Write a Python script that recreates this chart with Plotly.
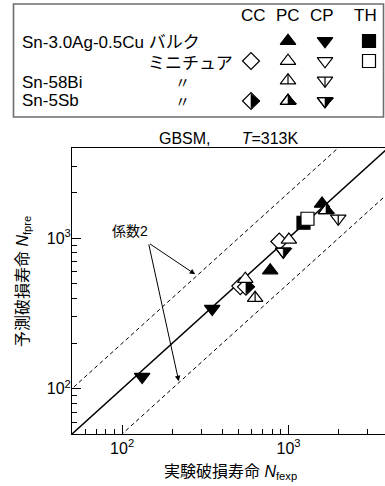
import math
import plotly.graph_objects as go

# ---------------- data ----------------
bulk_pc_x = [776, 1590]
bulk_pc_y = [610, 1690]
bulk_cp_x = [132, 348]
bulk_cp_y = [120, 340]
bulk_th_x = [1230]
bulk_th_y = [1265]
mini_cc_x = [513, 880]
mini_cc_y = [480, 950]
mini_pc_x = [550, 1005]
mini_pc_y = [536, 975]
mini_th_x = [1300]
mini_th_y = [1345]
bi_pc_x = [630]
bi_pc_y = [400]
bi_cp_x = [1990]
bi_cp_y = [1350]
sb_cc_x = [555]
sb_cc_y = [475]
sb_pc_x = [1680]
sb_pc_y = [1530]
sb_cp_x = [930]
sb_cp_y = [815]

FACTOR = 2
AXIS_MIN = 50
X_MAX = 3800
Y_MAX = 4000
major_ticks = [100, 1000]
major_text = ["10<sup>2</sup>", "10<sup>3</sup>"]
columns = ["CC", "PC", "CP", "TH"]
row_labels = ["Sn-3.0Ag-0.5Cu バルク", "ミニチュア", "Sn-58Bi", "Sn-5Sb"]
ditto = "〃"
coef_label = "係数2"
title_text = "GBSM,\u00a0\u00a0\u00a0\u00a0\u00a0\u00a0\u00a0<i>T</i>=313K"
x_title = "実験破損寿命 <i>N</i><sub>fexp</sub>"
y_title = "予測破損寿命 <i>N</i><sub>fpre</sub>"

# ---------------- layout constants ----------------
W, H = 385, 486
PL, PR, PT, PB = 72, 385, 147.5, 434
FONT = "Arial, 'Liberation Sans', 'Noto Sans CJK JP', sans-serif"
S = 13.5
LW = 1.2

fig = go.Figure()


def mk(x, y, xa, ya, symbol, size, color, lw=LW, angle=0, standoff=0):
    fig.add_trace(go.Scatter(
        x=x, y=y, xaxis=xa, yaxis=ya, mode="markers", showlegend=False,
        hoverinfo="skip", cliponaxis=False,
        marker=dict(symbol=symbol, size=size, color=color, angle=angle,
                    standoff=standoff, line=dict(color="black", width=lw))))


def glyph(kind, x, y, xa="x", ya="y"):
    r = S / 2
    q = 0.72 * r
    if kind == "up_f":
        mk(x, y, xa, ya, "triangle-up", S, "black")
    elif kind == "down_f":
        mk(x, y, xa, ya, "triangle-down", S, "black")
    elif kind == "sq_f":
        mk(x, y, xa, ya, "square", S - 0.5, "black")
    elif kind == "dia_o":
        mk(x, y, xa, ya, "diamond", S - 0.5, "white")
    elif kind == "up_o":
        mk(x, y, xa, ya, "triangle-up", S, "white")
    elif kind == "down_o":
        mk(x, y, xa, ya, "triangle-down", S, "white")
    elif kind == "sq_o":
        mk(x, y, xa, ya, "square", S - 0.5, "white")
    elif kind == "up_line":
        mk(x, y, xa, ya, "triangle-up", S, "white")
        mk(x, y, xa, ya, "line-ns", 1.07 * r, "black", angle=180, standoff=r / 4)
    elif kind == "down_line":
        mk(x, y, xa, ya, "triangle-down", S, "white")
        mk(x, y, xa, ya, "line-ns", 1.07 * r, "black", angle=0, standoff=r / 4)
    elif kind == "up_half":
        mk(x, y, xa, ya, "triangle-up", S, "white")
        mk(x, y, xa, ya, "triangle-nw", 2 * q, "black", lw=0.6, angle=-90, standoff=0.6 * q)
        mk(x, y, xa, ya, "triangle-up-open", S, "black")
    elif kind == "down_half":
        mk(x, y, xa, ya, "triangle-down", S, "white")
        mk(x, y, xa, ya, "triangle-ne", 2 * q, "black", lw=0.6, angle=-90, standoff=0.6 * q)
        mk(x, y, xa, ya, "triangle-down-open", S, "black")
    elif kind == "dia_half":
        rh = 0.92 * (S - 0.5) / 2
        mk(x, y, xa, ya, "diamond", S - 0.5, "white")
        mk(x, y, xa, ya, "triangle-down", 2 * rh, "black", lw=0.6, angle=-90, standoff=rh / 2)


# ---------------- reference lines ----------------
line_x = [AXIS_MIN / FACTOR, X_MAX * FACTOR]
fig.add_trace(go.Scatter(x=line_x, y=line_x, mode="lines", showlegend=False, hoverinfo="skip",
                         line=dict(color="black", width=1.5)))
fig.add_trace(go.Scatter(x=line_x, y=[v * FACTOR for v in line_x], mode="lines", showlegend=False,
                         hoverinfo="skip", line=dict(color="black", width=1, dash="4px,3px")))
fig.add_trace(go.Scatter(x=line_x, y=[v / FACTOR for v in line_x], mode="lines", showlegend=False,
                         hoverinfo="skip", line=dict(color="black", width=1, dash="4px,3px")))

# ---------------- data markers ----------------
glyph("sq_f", bulk_th_x, bulk_th_y)
glyph("sq_o", mini_th_x, mini_th_y)
glyph("down_f", bulk_cp_x, bulk_cp_y)
glyph("dia_o", mini_cc_x, mini_cc_y)
glyph("dia_half", sb_cc_x, sb_cc_y)
glyph("down_half", sb_cp_x, sb_cp_y)
glyph("up_o", mini_pc_x, mini_pc_y)
glyph("up_line", bi_pc_x, bi_pc_y)
glyph("up_f", bulk_pc_x, bulk_pc_y)
glyph("up_half", sb_pc_x, sb_pc_y)
glyph("down_line", bi_cp_x, bi_cp_y)

# ---------------- legend table (pixel-coordinate axes x2/y2) ----------------
col_x = {"CC": 251, "PC": 288, "CP": 325, "TH": 369}
row_y = [41, 61, 80.5, 101]
legend_rows = [
    [("PC", "up_f"), ("CP", "down_f"), ("TH", "sq_f")],
    [("CC", "dia_o"), ("PC", "up_o"), ("CP", "down_o"), ("TH", "sq_o")],
    [("PC", "up_line"), ("CP", "down_line")],
    [("CC", "dia_half"), ("PC", "up_half"), ("CP", "down_half")],
]
for ry, items in zip(row_y, legend_rows):
    for col, kind in items:
        glyph(kind, [col_x[col]], [ry], "x2", "y2")

annotations = []


def txt(text, x, y, size=17, xanchor="center", **kw):
    annotations.append(dict(text=text, x=x, y=y, xref="x2", yref="y2", showarrow=False,
                            xanchor=xanchor, yanchor="middle",
                            font=dict(family=FONT, size=size, color="black"), **kw))


header_x = {"CC": 253, "PC": 288, "CP": 322, "TH": 365}
for c in columns:
    txt(c, header_x[c], 15)
txt(row_labels[0], 20, 42, xanchor="left")
txt(row_labels[1], 235, 63, xanchor="right")
txt(row_labels[2], 20, 82, xanchor="left")
txt(row_labels[3], 20, 100.5, xanchor="left")
txt(ditto, 182, 82, size=15)
txt(ditto, 182, 101, size=15)
txt(title_text, 229, 138, size=16)
txt(x_title, 230, 472, size=16)
txt(y_title, 23, 282, size=16, textangle=-90)

# "係数2" label and arrows (main axes, log units)
annotations.append(dict(text=coef_label, x=math.log10(112), y=math.log10(1110), xref="x", yref="y",
                        showarrow=False, font=dict(family=FONT, size=14, color="black")))
for hx, hy in [(275, 575), (219, 112)]:
    annotations.append(dict(text="", x=math.log10(hx), y=math.log10(hy), xref="x", yref="y",
                            ax=math.log10(144), ay=math.log10(930), axref="x", ayref="y",
                            showarrow=True, arrowhead=2, arrowsize=1.1, arrowwidth=1,
                            arrowcolor="black", standoff=0, startstandoff=0))

shapes = [dict(type="rect", xref="x2", yref="y2", x0=13.5, x1=383.5, y0=4, y1=117,
               line=dict(color="#6e6e6e", width=1.6), fillcolor="rgba(0,0,0,0)")]

minor_vals = [k * 10 ** e for e in (1, 2, 3) for k in range(2, 10) if AXIS_MIN <= k * 10 ** e <= Y_MAX]

axis_common = dict(type="log", showgrid=False, zeroline=False, showline=True, linecolor="black",
                   linewidth=1, ticks="inside", ticklen=9, tickwidth=1, tickcolor="black",
                   tickmode="array", tickvals=major_ticks, ticktext=major_text,
                   tickfont=dict(family=FONT, size=16, color="black"),
                   minor=dict(ticks="inside", ticklen=5, tickwidth=1, tickcolor="black",
                              tickmode="array", tickvals=minor_vals, showgrid=False))

fig.update_layout(
    width=W, height=H, margin=dict(l=0, r=0, t=0, b=0),
    paper_bgcolor="white", plot_bgcolor="rgba(0,0,0,0)",
    font=dict(family=FONT, color="black"),
    xaxis=dict(axis_common, domain=[PL / W, PR / W],
               range=[math.log10(AXIS_MIN), math.log10(X_MAX)], mirror=True, anchor="y"),
    yaxis=dict(axis_common, domain=[(H - PB) / H, (H - PT) / H],
               range=[math.log10(AXIS_MIN), math.log10(Y_MAX)], mirror=False, anchor="x",
               ticklabelstandoff=-3),
    xaxis2=dict(domain=[0, 1], range=[0, W], visible=False, anchor="y2", fixedrange=True),
    yaxis2=dict(domain=[0, 1], range=[H, 0], visible=False, anchor="x2", fixedrange=True),
    annotations=annotations, shapes=shapes, showlegend=False,
)

fig.write_html("out.html", config={"displayModeBar": False},
               post_script="document.body.style.margin='0';")
